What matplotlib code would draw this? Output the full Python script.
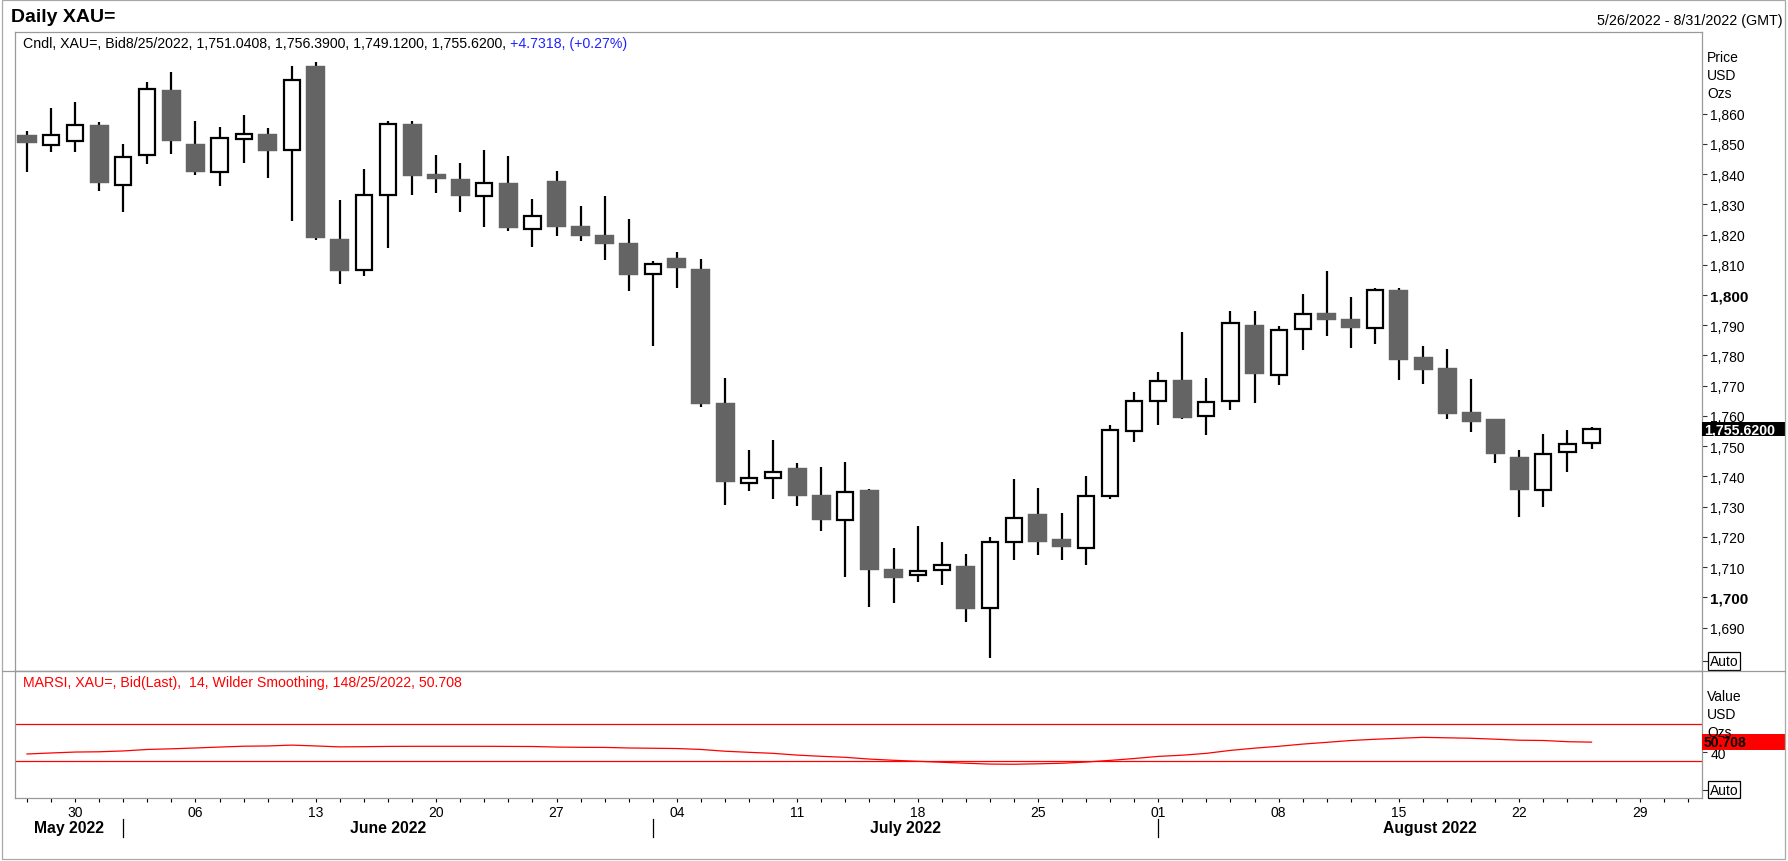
import numpy as np
import pandas as pd
import matplotlib
matplotlib.use("Agg")
import matplotlib.pyplot as plt
from matplotlib.patches import Rectangle
from matplotlib.lines import Line2D
from matplotlib.transforms import blended_transform_factory as blend

plt.rcParams['font.family'] = ['Liberation Sans', 'DejaVu Sans']

# ---------------- data ----------------
start_date = '2022-05-26'
axis_end_date = '2022-08-31'
opens = [1853.0, 1849.7, 1851.0, 1856.3, 1836.4, 1846.4, 1867.8, 1849.9, 1840.6, 1851.7,
         1853.3, 1848.1, 1875.7, 1818.6, 1808.3, 1833.1, 1856.5, 1840.0, 1838.3, 1832.8,
         1837.0, 1821.9, 1837.7, 1822.8, 1819.9, 1817.2, 1807.0, 1812.3, 1808.6, 1764.2,
         1737.7, 1739.4, 1742.7, 1733.8, 1725.5, 1735.4, 1709.3, 1707.3, 1708.9, 1710.3,
         1696.4, 1718.2, 1727.5, 1719.2, 1716.2, 1733.6, 1755.0, 1764.8, 1771.9, 1759.9,
         1764.8, 1790.1, 1773.5, 1788.7, 1793.9, 1792.1, 1789.0, 1801.6, 1779.5, 1775.8,
         1761.3, 1758.9, 1746.4, 1735.5, 1748.1, 1751.0408]
highs = [1854.3, 1861.8, 1863.8, 1857.2, 1849.9, 1870.4, 1873.7, 1857.5, 1855.5, 1859.5,
         1855.2, 1875.7, 1877.0, 1831.5, 1841.7, 1857.6, 1857.6, 1846.4, 1843.7, 1848.0,
         1846.0, 1831.8, 1841.1, 1829.5, 1832.8, 1825.2, 1811.2, 1814.2, 1811.9, 1772.5,
         1748.7, 1752.2, 1744.3, 1743.0, 1744.9, 1735.9, 1716.5, 1723.5, 1718.2, 1714.2,
         1719.9, 1739.1, 1736.1, 1727.8, 1740.1, 1757.0, 1767.8, 1774.7, 1787.7, 1772.5,
         1794.7, 1794.7, 1789.8, 1800.3, 1807.9, 1799.2, 1802.2, 1802.2, 1783.0, 1782.1,
         1772.2, 1759.1, 1748.7, 1754.0, 1755.5, 1756.39]
lows = [1840.8, 1847.2, 1847.2, 1834.5, 1827.6, 1843.2, 1846.5, 1839.8, 1836.0, 1843.5,
        1838.8, 1824.6, 1818.3, 1803.8, 1806.4, 1815.5, 1833.2, 1833.8, 1827.6, 1822.6,
        1821.0, 1816.0, 1819.6, 1817.7, 1811.7, 1801.4, 1783.2, 1802.4, 1762.8, 1730.6,
        1735.2, 1732.6, 1730.2, 1722.0, 1706.7, 1696.8, 1698.1, 1705.1, 1704.1, 1691.8,
        1679.9, 1712.4, 1714.0, 1712.4, 1710.7, 1732.7, 1751.4, 1757.1, 1759.1, 1753.8,
        1762.0, 1764.3, 1770.3, 1781.9, 1786.5, 1782.6, 1783.9, 1772.0, 1770.6, 1759.1,
        1754.7, 1744.5, 1726.6, 1730.0, 1741.5, 1749.12]
closes = [1850.1, 1852.8, 1856.1, 1836.9, 1845.5, 1868.0, 1850.8, 1840.8, 1851.8, 1853.1,
          1847.5, 1871.0, 1818.7, 1808.1, 1833.2, 1856.7, 1839.3, 1838.2, 1832.6, 1837.2,
          1822.3, 1826.0, 1822.6, 1819.6, 1817.0, 1806.7, 1810.2, 1809.0, 1764.1, 1738.2,
          1739.6, 1741.5, 1733.6, 1725.6, 1734.9, 1709.0, 1706.4, 1708.7, 1710.7, 1696.1,
          1718.3, 1726.3, 1718.3, 1716.7, 1733.6, 1755.4, 1765.0, 1771.6, 1759.3, 1764.7,
          1790.8, 1773.8, 1788.5, 1793.8, 1791.8, 1789.2, 1801.8, 1778.6, 1775.3, 1760.7,
          1758.1, 1747.5, 1735.5, 1747.5, 1750.8, 1755.62]
rsi = [37.9, 39.0, 40.0, 40.3, 41.2, 42.8, 43.5, 44.4, 45.4, 46.3,
       46.6, 47.5, 46.6, 45.6, 45.8, 46.1, 46.2, 46.2, 46.2, 46.2,
       46.1, 46.0, 45.4, 45.1, 45.0, 44.4, 44.1, 43.8, 42.8, 40.9,
       39.7, 38.6, 36.7, 35.4, 34.3, 32.4, 31.1, 30.0, 29.0, 27.9,
       27.0, 26.8, 27.3, 27.9, 29.2, 31.0, 33.0, 35.3, 36.6, 38.6,
       41.8, 44.2, 46.2, 48.6, 50.5, 52.5, 53.8, 54.9, 55.9, 55.4,
       54.9, 53.9, 52.8, 52.5, 51.2, 50.708]
rsi_levels = [30, 70]
price_ticks = list(range(1690, 1861, 10))
bold_price_ticks = [1700, 1800]
rsi_ticks = [40]
title_text = "Daily XAU="
range_text = "5/26/2022 - 8/31/2022 (GMT)"
header_black = "Cndl, XAU=, Bid8/25/2022, 1,751.0408, 1,756.3900, 1,749.1200, 1,755.6200,"
header_blue = "+4.7318, (+0.27%)"
rsi_header = "MARSI, XAU=, Bid(Last),  14, Wilder Smoothing, 148/25/2022, 50.708"
last_rsi_text = "50.708"

# ---------------- layout ----------------
W, H = 1788, 862
fig = plt.figure(figsize=(W / 100, H / 100), dpi=100)
fig.patch.set_facecolor('white')

def fx(px):
    return px / W

def fy(py):
    return 1 - py / H

L, R = 15.3, 1702.0
T1, B1, B2 = 33.0, 671.7, 799.3
ax = fig.add_axes([fx(L), fy(B1), fx(R) - fx(L), fy(T1) - fy(B1)])
ax2 = fig.add_axes([fx(L), fy(B2), fx(R) - fx(L), fy(B1) - fy(B2)])

frame_col = '#9a9a9a'
for a in (ax, ax2):
    for s in a.spines.values():
        s.set_color(frame_col)
        s.set_linewidth(0.9)
    a.set_facecolor('white')

all_dates = pd.bdate_range(start_date, axis_end_date)
n = len(closes)
x = np.arange(n)
xlim = (-0.486, 69.59)

# ---------------- candles ----------------
o = np.array(opens); c = np.array(closes); h = np.array(highs); l = np.array(lows)
up = c >= o
ax.vlines(x, l, h, color='black', linewidth=1.6, zorder=2)
ax.bar(x[~up], (c - o)[~up], bottom=o[~up], width=0.79, color='#646464',
       edgecolor='#646464', linewidth=0.3, zorder=3)
ax.bar(x[up], (c - o)[up], bottom=o[up], width=0.67, facecolor='white',
       edgecolor='black', linewidth=1.6, zorder=3)

ax.set_xlim(*xlim)
ax.set_ylim(1675.76, 1886.97)
ax.set_xticks([])
ax.yaxis.tick_right()
ax.set_yticks(price_ticks, labels=[f"{v:,}" for v in price_ticks])
ax.tick_params(axis='y', direction='out', length=3.6, width=0.8, color='#333333',
               pad=2.5, labelsize=10, labelcolor='black')
for tk, v in zip(ax.yaxis.get_major_ticks(), price_ticks):
    if v in bold_price_ticks:
        tk.label2.set_fontweight('bold')
        tk.label2.set_fontsize(11)

# right axis captions
for txt, yy in zip(["Price", "USD", "Ozs"], [58, 76, 94]):
    fig.text(fx(1707), fy(yy), txt, fontsize=10, va='center', ha='left')

# last price box
ypx = 3.024
bt = blend(ax.transAxes, ax.transData)
box_h = 14 / ypx
ax.add_patch(Rectangle((1.0, closes[-1] - box_h / 2), 83 / (R - L), box_h,
                       transform=bt, facecolor='black', edgecolor='none',
                       clip_on=False, zorder=10))
ax.text(1.001, closes[-1], f"{closes[-1]:,.4f}", transform=bt, color='white',
        fontsize=10.2, fontweight='bold', va='center', ha='left', clip_on=False, zorder=11)

# Auto boxes
def auto_box(a, yfrac):
    a.add_line(Line2D([1.0, 1.0035], [yfrac, yfrac], transform=a.transAxes,
                      color='#333333', lw=0.8, clip_on=False))
    a.text(1.0045, yfrac, "Auto", transform=a.transAxes, fontsize=10, va='center',
           ha='left', clip_on=False,
           bbox=dict(boxstyle='square,pad=0.12', facecolor='white', edgecolor='black',
                     linewidth=0.9))

auto_box(ax, (B1 - 662) / (B1 - T1))

# ---------------- RSI ----------------
ax2.plot(x, rsi, color='#ff0000', linewidth=0.9, zorder=3)
for lv in rsi_levels:
    ax2.axhline(lv, color='#ff0000', linewidth=0.9, zorder=2)
ax2.set_xlim(*xlim)
ax2.set_ylim(-10, 127.95)
ax2.yaxis.tick_right()
ax2.set_yticks(rsi_ticks, labels=[str(v) for v in rsi_ticks])
ax2.tick_params(axis='y', direction='out', length=3.6, width=0.8, color='#333333',
                pad=2.5, labelsize=10)

for txt, yy in zip(["Value", "USD", "Ozs"], [697.3, 715.3, 733.3]):
    fig.text(fx(1707), fy(yy), txt, fontsize=10, va='center', ha='left')

bt2 = blend(ax2.transAxes, ax2.transData)
rbox_h = 15.7 / 0.925
ax2.add_patch(Rectangle((1.0, rsi[-1] - rbox_h / 2 + 0.3), 83 / (R - L), rbox_h,
                        transform=bt2, facecolor='#ff0000', edgecolor='none',
                        clip_on=False, zorder=10))
ax2.text(1.001, rsi[-1] + 0.3, last_rsi_text, transform=bt2, color='black', fontsize=10,
         fontweight='bold', va='center', ha='left', clip_on=False, zorder=11)
auto_box(ax2, (B2 - 790.7) / (B2 - B1))

# x axis (trading-day ticks, Monday labels)
all_idx = np.arange(len(all_dates))
mondays = [i for i, d in enumerate(all_dates) if d.weekday() == 0]
ax2.set_xticks(all_idx, minor=True)
ax2.set_xticks(mondays, labels=[f"{all_dates[i].day:02d}" for i in mondays])
ax2.tick_params(axis='x', which='both', direction='out', length=3, width=0.8,
                color='black', labelsize=10, pad=2)

# month labels and separators
tb = blend(ax2.transData, ax2.transAxes)
months = pd.Series(all_idx, index=all_dates).groupby(all_dates.to_period('M'))
firsts = []
for per, grp in months:
    first = grp.iloc[0]
    lo = max(first, xlim[0]) if first > 0 else xlim[0]
    firsts.append((per, first))
bounds = []
for k, (per, first) in enumerate(firsts):
    lo = xlim[0] if k == 0 else first
    hi = firsts[k + 1][1] if k + 1 < len(firsts) else xlim[1]
    ax2.text((lo + hi) / 2, -(829 - B2) / (B2 - B1), per.strftime('%B %Y'),
             transform=tb, ha='center', va='center', fontsize=11.3, fontweight='bold')
    if k > 0:
        ax2.add_line(Line2D([first, first], [-(820 - B2) / (B2 - B1), -(838 - B2) / (B2 - B1)],
                            transform=tb, color='black', lw=0.9, clip_on=False))

# ---------------- header texts ----------------
fig.text(fx(11), fy(17), title_text, fontsize=14, fontweight='bold', va='center', ha='left')
fig.text(fx(1783), fy(21), range_text, fontsize=10.3, va='center', ha='right')
t1 = fig.text(fx(23), fy(43.7), header_black, fontsize=10.2, va='center', ha='left')
fig.canvas.draw()
ext = t1.get_window_extent()
fig.text((ext.x1 + 4) / W, fy(43.7), header_blue, fontsize=10.2, va='center', ha='left',
         color='#2222ff')
fig.text(fx(23), fy(682.7), rsi_header, fontsize=10.2, va='center', ha='left', color='#ff0000')

# outer frame and panel separator
fig.add_artist(Rectangle((fx(2), fy(860)), fx(1785) - fx(2), fy(1) - fy(860),
                         transform=fig.transFigure, fill=False, edgecolor='#a8a8a8', lw=0.9))
fig.add_artist(Line2D([fx(2), fx(1785)], [fy(B1), fy(B1)], transform=fig.transFigure,
                      color=frame_col, lw=0.9))

fig.savefig('out.png', dpi=100)
